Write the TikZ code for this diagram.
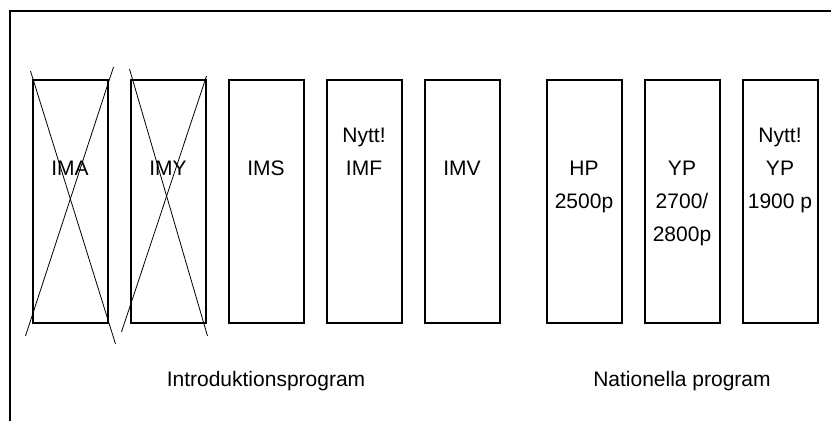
\documentclass[tikz,border=0pt]{standalone}
\usepackage{fontspec}
\setmainfont{Liberation Sans}
\usetikzlibrary{positioning, calc}
\tikzset{
	prog/.style={draw, line width=1pt, minimum width=37.5pt, minimum height=121.5pt, inner sep=0pt},
	lbl/.style={font=\fontsize{10.5}{16.5}\selectfont, align=center, inner sep=0pt, anchor=base},
	cross/.style={line width=0.4pt},
}

\begin{document}
\begin{tikzpicture}[x=0.5pt, y=-0.5pt]
		\useasboundingbox (0,0) rectangle (831,421);
		\clip (0,0) rectangle (831,421);
		% outer frame
		\draw[line width=1pt] (9.5,11) rectangle (845,440);

		% Introduction programmes
		\node[prog] (ima) at (70,201.5) {};
		\node[prog, right=10.5pt of ima] (imy) {};
		\node[prog, right=10.5pt of imy] (ims) {};
		\node[prog, right=10.5pt of ims] (imf) {};
		\node[prog, right=10.5pt of imf] (imv) {};

		% National programmes
		\node[prog, right=22.5pt of imv] (hp) {};
		\node[prog, right=10.5pt of hp] (yp) {};
		\node[prog, right=10.5pt of yp] (ypn) {};

		% base = last line
		\node[lbl] (imalbl) at ($(ima.north)+(0,97)$) {IMA};
		\node[lbl] (imylbl) at ($(imy.north)+(0,97)$) {IMY};
		\node[lbl] (imslbl) at ($(ims.north)+(0,97)$) {IMS};
		\node[lbl] (imflbl) at ($(imf.north)+(0,97)$) {Nytt!\\IMF};
		\node[lbl] (imvlbl) at ($(imv.north)+(0,97)$) {IMV};
		\node[lbl] (hplbl) at ($(hp.north)+(0,130)$) {HP\\2500p};
		\node[lbl] (yplbl) at ($(yp.north)+(0,163)$) {YP\\2700/\\2800p};
		\node[lbl] (ypnlbl) at ($(ypn.north)+(0,130)$) {Nytt!\\YP\\1900 p};

		% crossed out
		\draw[cross] ($(ima.north west)+(-1,-8)$) -- ($(ima.south east)+(7,20)$);
		\draw[cross] ($(ima.north east)+(5,-12)$) -- ($(ima.south west)+(-6,12)$);
		\draw[cross] ($(imy.north west)+(0,-10)$) -- ($(imy.south east)+(1,12)$);
		\draw[cross] ($(imy.north east)+(0,-3)$) -- ($(imy.south west)+(-8,8)$);

		\node[lbl] (intro) at ($(ims.south)+(0,63)$) {Introduktionsprogram};
		\node[lbl] (nat) at ($(yp.south)+(0,63)$) {Nationella program};
	\end{tikzpicture}
\end{document}
